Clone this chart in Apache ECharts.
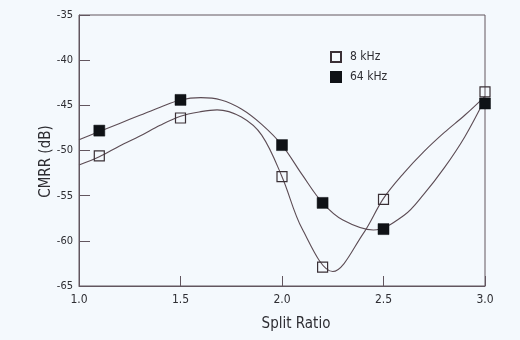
<!DOCTYPE html>
<html>
<head>
<meta charset="utf-8">
<script src="https://cdn.jsdelivr.net/npm/echarts@6/dist/echarts.min.js"></script>
<style>
  html, body { margin: 0; padding: 0; background: #f4f9fd; }
  #chart { width: 520px; height: 340px; }
</style>
</head>
<body>
<div id="chart"></div>
<script>
// Measured points (split ratio vs. CMRR in dB)
const splitRatio = [1.1, 1.5, 2.0, 2.2, 2.5, 3.0];
const cmrr8k = [-50.6, -46.4, -52.9, -62.9, -55.4, -43.5];
const cmrr64k = [-47.8, -44.4, -49.4, -55.8, -58.7, -44.8];

// Fitted trend curves: knots along each curve, including its turning points
const fit8kX = [1.0, 1.1, 1.2, 1.3, 1.4, 1.5, 1.6, 1.68, 1.8, 1.9, 2.0, 2.1, 2.25, 2.4, 2.5, 2.6, 2.7, 2.8, 2.9, 3.0];
const fit8kY = [-51.6, -50.7, -49.5, -48.4, -47.2, -46.2, -45.7, -45.5, -46.3, -48.3, -52.9, -58.7, -63.4, -59.2, -55.3, -52.5, -50.1, -48.0, -46.1, -44.0];
const fit64kX = [1.0, 1.1, 1.2, 1.3, 1.4, 1.5, 1.6, 1.7, 1.8, 1.9, 2.0, 2.1, 2.2, 2.3, 2.45, 2.6, 2.7, 2.8, 2.9, 3.0];
const fit64kY = [-48.8, -47.9, -47.0, -46.1, -45.2, -44.4, -44.15, -44.4, -45.4, -47.1, -49.4, -52.7, -55.8, -57.7, -58.8, -57.2, -54.8, -51.9, -48.5, -44.3];

// Axis ticks
const xTicks = [1.0, 1.5, 2.0, 2.5, 3.0];
const yTicks = [-65, -60, -55, -50, -45, -40, -35];

const FONT = "'Liberation Sans Narrow', 'DejaVu Sans Condensed', 'Arial Narrow', sans-serif";
const AXIS = '#62565f';
const CURVE = '#5c4c54';
const TEXT = '#2e2e33';

const zip = (a, b) => a.map((v, i) => [v, b[i]]);

const chart = echarts.init(document.getElementById('chart'), null, { renderer: 'canvas' });
chart.setOption({
  backgroundColor: '#f4f9fd',
  animation: false,
  grid: {
    left: 79, right: 35, top: 15, bottom: 54,
    show: true, borderColor: AXIS, borderWidth: 1, backgroundColor: 'transparent'
  },
  legend: {
    data: ['8 kHz', '64 kHz'],
    orient: 'vertical',
    left: 330, top: 51, padding: 0,
    itemWidth: 10, itemHeight: 10, itemGap: 8,
    icon: 'rect',
    textStyle: { fontFamily: FONT, fontSize: 12, color: TEXT, padding: [0, 0, 0, 4] }
  },
  xAxis: {
    type: 'value',
    min: xTicks[0], max: xTicks[xTicks.length - 1], interval: 0.5,
    name: 'Split Ratio', nameLocation: 'middle', nameGap: 31, nameMoveOverlap: false,
    nameTextStyle: { fontFamily: FONT, fontSize: 15, color: TEXT, padding: [0, 0, 0, 28] },
    axisLine: { lineStyle: { color: AXIS, width: 1 } },
    axisTick: { inside: true, length: 10, lineStyle: { color: AXIS } },
    axisLabel: {
      fontFamily: FONT, fontSize: 12, color: TEXT, margin: 8,
      formatter: v => v.toFixed(1)
    },
    splitLine: { show: false }
  },
  yAxis: {
    type: 'value',
    min: yTicks[0], max: yTicks[yTicks.length - 1], interval: 5,
    name: 'CMRR (dB)', nameLocation: 'middle', nameGap: 25, nameRotate: 90, nameMoveOverlap: false,
    nameTextStyle: { fontFamily: FONT, fontSize: 15, color: TEXT, padding: [0, 0, 0, -22] },
    axisLine: { lineStyle: { color: AXIS, width: 1 } },
    axisTick: { inside: true, length: 11, lineStyle: { color: AXIS } },
    axisLabel: { fontFamily: FONT, fontSize: 11, color: TEXT, margin: 6 },
    splitLine: { show: false }
  },
  series: [
    {
      type: 'line', smooth: 0.35, showSymbol: false, silent: true,
      data: zip(fit8kX, fit8kY),
      lineStyle: { color: CURVE, width: 1.1 }, z: 2
    },
    {
      type: 'line', smooth: 0.35, showSymbol: false, silent: true,
      data: zip(fit64kX, fit64kY),
      lineStyle: { color: CURVE, width: 1.1 }, z: 2
    },
    {
      name: '8 kHz', type: 'scatter', symbol: 'rect', symbolSize: 10,
      data: zip(splitRatio, cmrr8k),
      itemStyle: { color: 'rgba(255,255,255,0)', borderColor: '#3a3036', borderWidth: 1.2, opacity: 1 }, z: 3
    },
    {
      name: '64 kHz', type: 'scatter', symbol: 'rect', symbolSize: 11,
      data: zip(splitRatio, cmrr64k),
      itemStyle: { color: '#0f1216', borderColor: '#0f1216', borderWidth: 0.5, opacity: 1 }, z: 4
    }
  ]
});
</script>
</body>
</html>
